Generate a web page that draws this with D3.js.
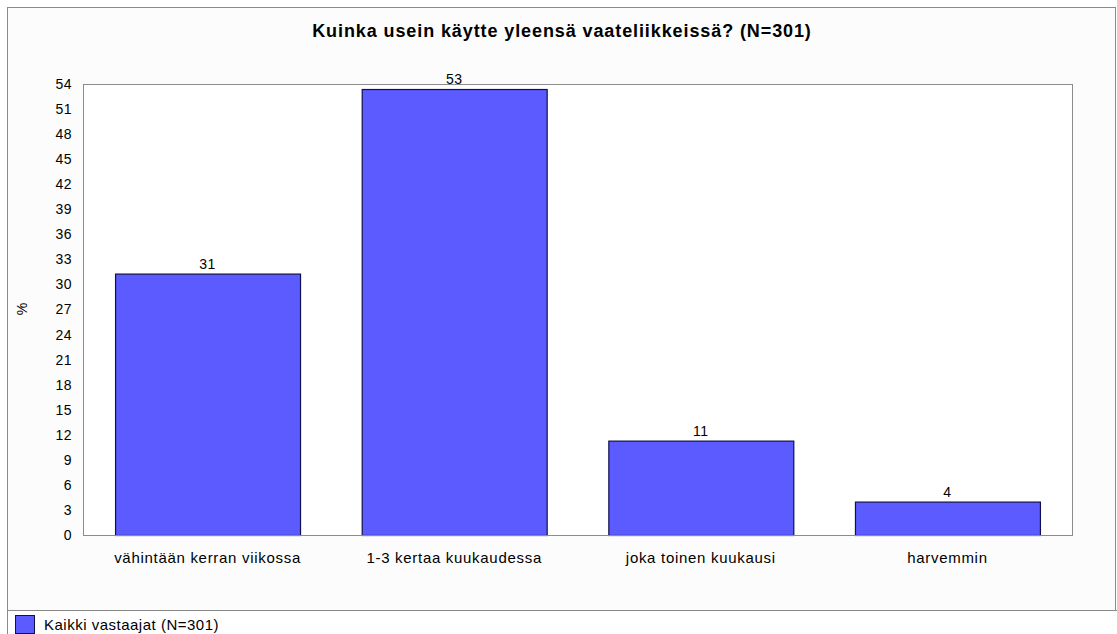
<!DOCTYPE html>
<html>
  <head>
    <meta charset="utf-8">
    <title>Kuinka usein käytte yleensä vaateliikkeissä?</title>
    <script src="https://d3js.org/d3.v7.min.js"></script>
    <style>
      body { margin: 0; background: #ffffff; }
      svg { display: block; font-family: Arial, "Liberation Sans", sans-serif; }
      .tick text { font-size: 14px; fill: #000; letter-spacing: 0.5px; }
      .xaxis .tick text { font-size: 15px; letter-spacing: 0.7px; }
    </style>
  </head>
  <body>
    <svg id="chart" width="1117" height="634"></svg>
    <script>
      // data
      var categories = ["vähintään kerran viikossa", "1-3 kertaa kuukaudessa", "joka toinen kuukausi", "harvemmin"];
      var values = [31.3, 53.4, 11.3, 4.0];
      var yTicks = d3.range(0, 55, 3);
      var seriesName = "Kaikki vastaajat (N=301)";
      var title = "Kuinka usein käytte yleensä vaateliikkeissä? (N=301)";

      var svg = d3.select("#chart");
      var margin = { top: 84, right: 45, bottom: 99, left: 83 };
      var width = 1117, height = 634;

      // outer frame
      svg.append("rect")
        .attr("x", 7.5).attr("y", 7.5)
        .attr("width", 1108).attr("height", 640)
        .attr("fill", "#fcfcfc")
        .attr("stroke", "#8a8a8a");
      svg.append("line")
        .attr("x1", 7).attr("x2", 1117)
        .attr("y1", 610.5).attr("y2", 610.5)
        .attr("stroke", "#8a8a8a");
      svg.append("rect")
        .attr("x", 8).attr("y", 611)
        .attr("width", 1108).attr("height", 30)
        .attr("fill", "#ffffff");

      var x = d3.scaleBand()
        .domain(categories)
        .range([margin.left, width - margin.right])
        .paddingInner(0.25)
        .paddingOuter(0.13);
      var y = d3.scaleLinear()
        .domain([0, 54])
        .range([height - margin.bottom, margin.top]);

      // plot area
      svg.append("rect")
        .attr("x", margin.left + 0.5).attr("y", margin.top + 0.5)
        .attr("width", width - margin.right - margin.left).attr("height", y(0) - margin.top)
        .attr("fill", "#ffffff")
        .attr("stroke", "#8c8c8c");

      var yAxis = d3.axisLeft(y)
        .tickValues(yTicks)
        .tickSize(0)
        .tickPadding(11);
      svg.append("g")
        .attr("transform", "translate(" + margin.left + ",0)")
        .call(yAxis)
        .call(function(g) { g.select(".domain").remove(); })
        .selectAll("text").attr("font-family", "Arial, 'Liberation Sans', sans-serif");

      var xAxis = d3.axisBottom(x)
        .tickSize(0)
        .tickPadding(17);
      svg.append("g")
        .attr("class", "xaxis")
        .attr("transform", "translate(0," + y(0) + ")")
        .call(xAxis)
        .call(function(g) { g.select(".domain").remove(); })
        .selectAll("text").attr("font-family", "Arial, 'Liberation Sans', sans-serif");

      // bars
      svg.selectAll(".bar")
        .data(values)
        .enter().append("rect")
          .attr("class", "bar")
          .attr("x", function(d, i) { return x(categories[i]) + 0.5; })
          .attr("y", function(d) { return y(d) + 0.5; })
          .attr("width", x.bandwidth())
          .attr("height", function(d) { return y(0) - y(d); })
          .attr("fill", "#5b5bff")
          .attr("stroke", "#10104a")
          .attr("stroke-width", 1.2);

      // zero line
      svg.append("line")
        .attr("x1", margin.left).attr("x2", width - margin.right)
        .attr("y1", y(0) + 0.5).attr("y2", y(0) + 0.5)
        .attr("stroke", "#8c8c8c");

      // value labels
      svg.selectAll(".val")
        .data(values)
        .enter().append("text")
          .attr("class", "val")
          .attr("x", function(d, i) { return x(categories[i]) + x.bandwidth() / 2; })
          .attr("y", function(d) { return y(d) - 5; })
          .attr("text-anchor", "middle")
          .attr("font-size", 14)
          .attr("letter-spacing", 0.5)
          .text(function(d) { return Math.round(d); });

      // title
      svg.append("text")
        .attr("x", 562).attr("y", 37)
        .attr("text-anchor", "middle")
        .attr("font-size", 18)
        .attr("font-weight", "bold")
        .attr("letter-spacing", 0.9)
        .text(title);

      // y label
      svg.append("text")
        .attr("transform", "translate(27,309) rotate(-90)")
        .attr("text-anchor", "middle")
        .attr("font-size", 14)
        .text("%");

      // legend
      svg.append("rect")
        .attr("x", 15.5).attr("y", 615.5)
        .attr("width", 19).attr("height", 18)
        .attr("fill", "#5b5bff")
        .attr("stroke", "#10104a");
      svg.append("text")
        .attr("x", 44).attr("y", 630)
        .attr("font-size", 15)
        .attr("letter-spacing", 0.5)
        .text(seriesName);
    </script>
  </body>
</html>
